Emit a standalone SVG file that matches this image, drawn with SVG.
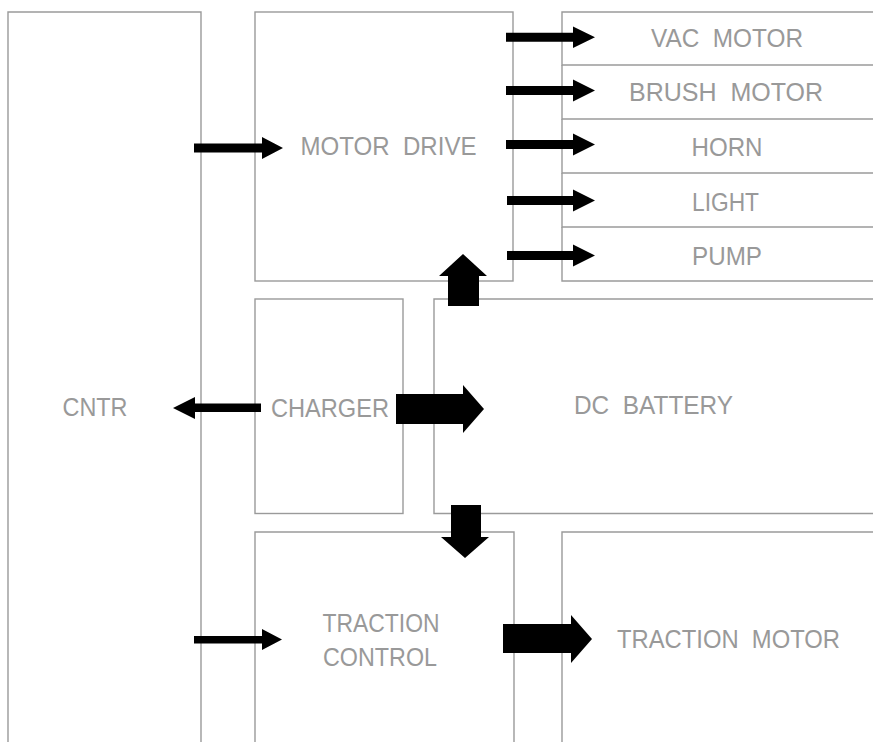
<svg xmlns="http://www.w3.org/2000/svg" width="873" height="742" viewBox="0 0 873 742">
<style>
.box{fill:none;stroke:#9a9a9a;stroke-width:1.4}
.lbl{font-family:"Liberation Sans",Arial,sans-serif;font-size:25px;fill:#999;text-anchor:middle;white-space:pre}
.arr{fill:#000}
</style>
<rect width="873" height="742" fill="#fff"/>
<g id="cntr">
<path class="box" d="M8,745 V12 H201 V745"/>
<text class="lbl" x="95" y="415.5" textLength="65" lengthAdjust="spacingAndGlyphs">CNTR</text>
</g>
<g id="motor-drive">
<rect class="box" x="255" y="12" width="258" height="269"/>
<text class="lbl" x="388.5" y="155" textLength="176" lengthAdjust="spacingAndGlyphs" xml:space="preserve">MOTOR  DRIVE</text>
</g>
<g id="vac-motor">
<path class="box" d="M875,12 H562 V65 H875"/>
<text class="lbl" x="727" y="47" textLength="152" lengthAdjust="spacingAndGlyphs" xml:space="preserve">VAC  MOTOR</text>
</g>
<g id="brush-motor">
<path class="box" d="M562,65 V119 H875"/>
<text class="lbl" x="726" y="101" textLength="194" lengthAdjust="spacingAndGlyphs" xml:space="preserve">BRUSH  MOTOR</text>
</g>
<g id="horn">
<path class="box" d="M562,119 V173 H875"/>
<text class="lbl" x="727" y="155.5" textLength="71" lengthAdjust="spacingAndGlyphs">HORN</text>
</g>
<g id="light">
<path class="box" d="M562,173 V227 H875"/>
<text class="lbl" x="725.5" y="211" textLength="67" lengthAdjust="spacingAndGlyphs">LIGHT</text>
</g>
<g id="pump">
<path class="box" d="M562,227 V281 H875"/>
<text class="lbl" x="727" y="265" textLength="70" lengthAdjust="spacingAndGlyphs">PUMP</text>
</g>
<g id="charger">
<rect class="box" x="255" y="299" width="148" height="214.5"/>
<text class="lbl" x="330" y="417" textLength="118" lengthAdjust="spacingAndGlyphs">CHARGER</text>
</g>
<g id="dc-battery">
<path class="box" d="M875,299 H434 V513.5 H875"/>
<text class="lbl" x="653.5" y="414" textLength="159" lengthAdjust="spacingAndGlyphs" xml:space="preserve">DC  BATTERY</text>
</g>
<g id="traction-control">
<path class="box" d="M255,745 V532 H514 V745"/>
<text class="lbl" x="381" y="632" textLength="117" lengthAdjust="spacingAndGlyphs">TRACTION</text>
<text class="lbl" x="380" y="665.5" textLength="114" lengthAdjust="spacingAndGlyphs">CONTROL</text>
</g>
<g id="traction-motor">
<path class="box" d="M562,745 V532 H875"/>
<text class="lbl" x="728.5" y="648" textLength="223" lengthAdjust="spacingAndGlyphs" xml:space="preserve">TRACTION  MOTOR</text>
</g>
<g id="connectors">
<polygon class="arr" points="194,143.5 262,143.5 262,137 283,148 262,159 262,152.5 194,152.5"/>
<polygon class="arr" points="506,32.7 573,32.7 573,26.5 595,37.3 573,48 573,41.7 506,41.7"/>
<polygon class="arr" points="506,86 573,86 573,79.5 595,90.5 573,101.5 573,95 506,95"/>
<polygon class="arr" points="506,140 573,140 573,133.5 595,144.5 573,155.5 573,149 506,149"/>
<polygon class="arr" points="507,196 573,196 573,189.5 595,200.5 573,211.5 573,205 507,205"/>
<polygon class="arr" points="507,251 573,251 573,244.5 595,255.5 573,266.5 573,260 507,260"/>
<polygon class="arr" points="261,403.5 195,403.5 195,397 173,408 195,419 195,412 261,412"/>
<polygon class="arr" points="194,636 262,636 262,629 282,639.5 262,650 262,643.5 194,643.5"/>
<polygon class="arr" points="448,306 448,276 439,276 463,254 487,276 479,276 479,306"/>
<polygon class="arr" points="396,394 463,394 463,385 484,409 463,433 463,424 396,424"/>
<polygon class="arr" points="451,505 481,505 481,537 489,537 465,558 441,537 451,537"/>
<polygon class="arr" points="503,624 571,624 571,615 592,639 571,663 571,653 503,653"/>
</g>
</svg>
